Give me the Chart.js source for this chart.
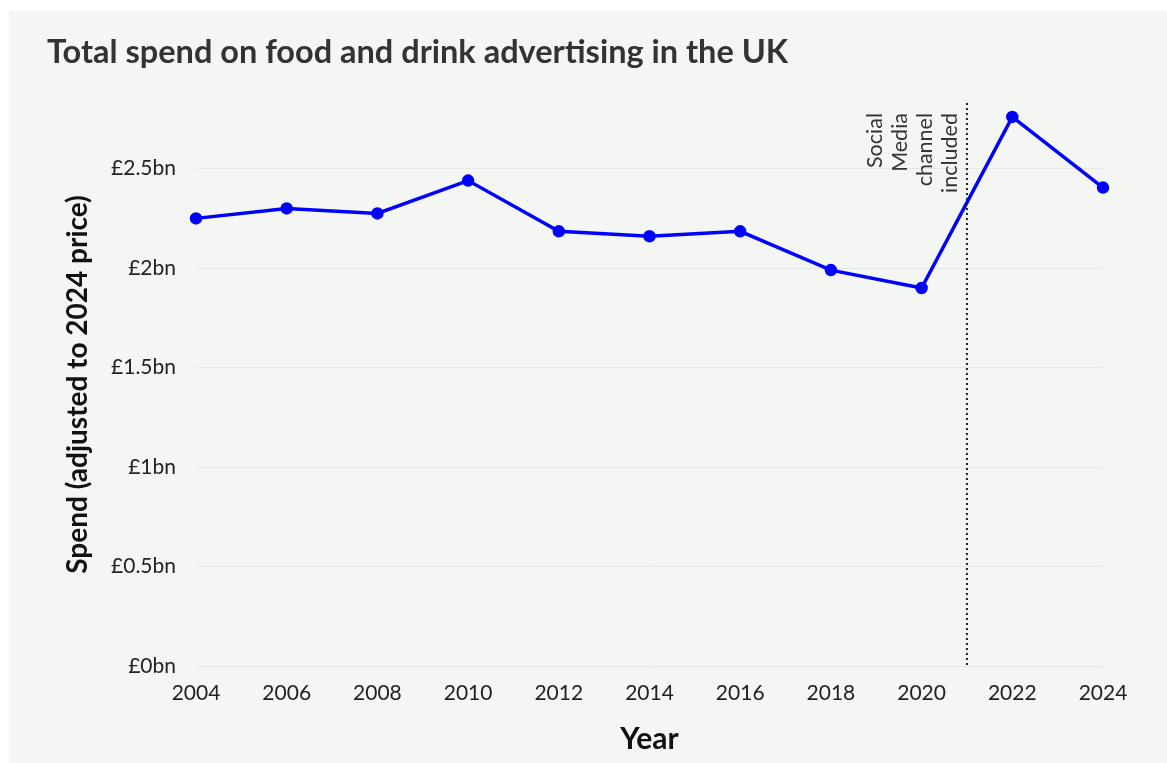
<!DOCTYPE html>
<html>
<head>
<meta charset="utf-8">
<script src="https://cdn.jsdelivr.net/npm/chart.js@4.4.1/dist/chart.umd.min.js"></script>
<style>
  html, body { margin: 0; padding: 0; background: #ffffff; }
  #wrap { position: absolute; left: 9px; top: 11px; width: 1158px; height: 752px; background: #f4f6f4; }
  canvas { display: block; }
</style>
</head>
<body>
<div id="wrap"><canvas id="c" width="1158" height="752"></canvas></div>
<script>
const years = [2004, 2006, 2008, 2010, 2012, 2014, 2016, 2018, 2020, 2022, 2024];
const spend = [2.25, 2.30, 2.275, 2.44, 2.185, 2.16, 2.185, 1.99, 1.90, 2.76, 2.405];
const yTickValues = [0, 0.5, 1, 1.5, 2, 2.5];
const annotationYear = 2021;
const annotationLines = ["Social", "Media", "channel", "included"];
const titleText = "Total spend on food and drink advertising in the UK";
const yTitle = "Spend (adjusted to 2024 price)";
const xTitle = "Year";

const FONT = "Lato, 'Open Sans', sans-serif";

const annotationPlugin = {
  id: 'socialLine',
  afterDatasetsDraw(chart) {
    const {ctx, chartArea, scales} = chart;
    const x = scales.x.getPixelForValue(annotationYear);
    ctx.save();
    ctx.strokeStyle = '#222';
    ctx.lineWidth = 2;
    ctx.setLineDash([2, 3]);
    ctx.beginPath();
    ctx.moveTo(x, chartArea.top);
    ctx.lineTo(x, chartArea.bottom);
    ctx.stroke();
    ctx.setLineDash([]);
    ctx.fillStyle = '#333';
    ctx.font = "21.5px " + FONT;
    ctx.textAlign = 'right';
    ctx.textBaseline = 'middle';
    ctx.translate(x, chartArea.top + 10);
    ctx.rotate(-Math.PI / 2);
    const n = annotationLines.length;
    annotationLines.forEach((t, i) => {
      ctx.fillText(t, 0, -17 - (n - 1 - i) * 25);
    });
    ctx.restore();
  }
};

new Chart(document.getElementById('c'), {
  type: 'line',
  data: {
    datasets: [{
      data: years.map((y, i) => ({x: y, y: spend[i]})),
      borderColor: '#0000ff',
      backgroundColor: '#0000ff',
      borderWidth: 3.5,
      pointRadius: 4.5,
      pointHoverRadius: 4.5,
      tension: 0,
      clip: false
    }]
  },
  options: {
    responsive: false,
    animation: false,
    events: [],
    layout: { padding: { left: 38, right: 64, top: 0, bottom: 0 } },
    plugins: {
      legend: { display: false },
      tooltip: { enabled: false },
      title: {
        display: true,
        text: titleText,
        align: 'start',
        color: '#333',
        font: { family: FONT, size: 32.5, weight: 'bold', lineHeight: 1.2 },
        padding: { top: 22, bottom: 31 }
      }
    },
    scales: {
      x: {
        type: 'linear',
        min: 2004,
        max: 2024,
        grid: { display: false, drawTicks: false },
        border: { display: false },
        ticks: {
          stepSize: 2,
          padding: 15,
          color: '#222',
          font: { family: FONT, size: 21 },
          callback: v => String(v)
        },
        title: {
          display: true,
          text: xTitle,
          color: '#111',
          font: { family: FONT, size: 30, weight: 'bold', lineHeight: 1.2 },
          padding: { top: 0, bottom: 6 }
        },
        afterFit(scale) { scale.height = 97; }
      },
      y: {
        min: 0,
        max: 2.83,
        grid: { color: '#e6e8e5', lineWidth: 1, drawTicks: false },
        border: { display: false },
        afterBuildTicks(scale) { scale.ticks = yTickValues.map(v => ({value: v})); },
        ticks: {
          padding: 20,
          color: '#222',
          font: { family: FONT, size: 21 },
          callback: v => '£' + v + 'bn'
        },
        title: {
          display: true,
          text: yTitle,
          color: '#111',
          font: { family: FONT, size: 28, weight: 'bold', lineHeight: 1.2 },
          padding: { top: 14, bottom: 0 }
        },
        afterFit(scale) { scale.width = 149; }
      }
    }
  },
  plugins: [annotationPlugin]
});
</script>
</body>
</html>
